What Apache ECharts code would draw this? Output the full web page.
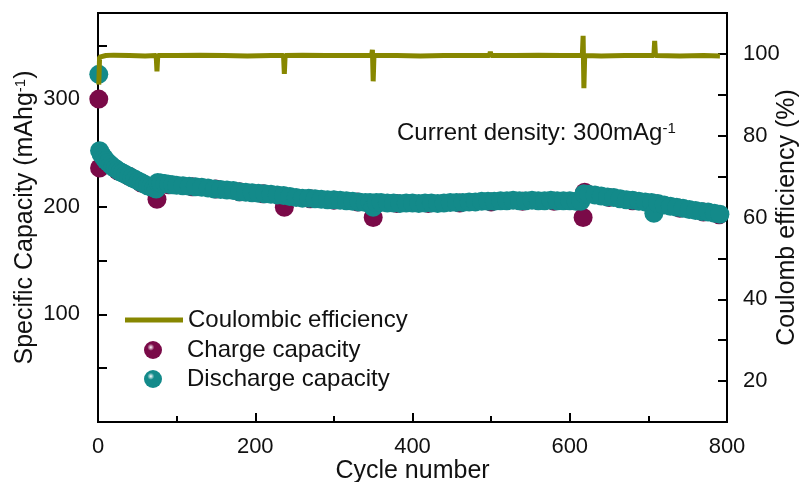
<!DOCTYPE html>
<html>
<head>
<meta charset="utf-8">
<script src="https://cdn.jsdelivr.net/npm/echarts@6/dist/echarts.min.js"></script>
<style>
  html, body, #main { width: 100%; height: 100%; margin: 0; background: #fff; }
</style>
</head>
<body>
<div id="main"></div>
<script>
// [cycle, mAh/g]
var discharge = [
  [1,323],[2,252],[4,249],[6,247],[8,245],[10,243],[13,241],[16,239],[19,237],[22,235.5],
  [25,234],[28,232.5],[31,231.5],[35,230],[39,228.5],[43,227],[47,225.5],[51,224],[55,222.5],
  [59,221],[63,219.5],[67,218.5],[71,217.5],[74,216.5],[76,222.5],[80,222],[85,221.5],[90,221],
  [95,220.5],[100,220],[108,219.5],[116,219],[124,218.5],[132,218],[140,217.5],[148,216.5],
  [156,216],[164,215.5],[172,215],[180,214],[188,213.5],[196,213],[204,212.5],[212,212],
  [220,211.5],[228,211],[236,210.5],[244,209.5],[252,208.5],[260,208],[268,208],[276,207.5],
  [284,207],[292,206.5],[300,206.5],[308,206],[316,205.5],[324,205],[332,204.5],[340,204],
  [346,204],[350,199.5],[354,204],[360,204],[368,203.5],[376,203.5],[384,203],[392,203.5],
  [400,203.5],[408,203],[416,203.5],[424,203.5],[432,203],[440,203.5],[448,204],[456,204],
  [464,204],[472,204.5],[480,204.5],[488,205],[496,205],[504,205],[512,205.5],[520,205.5],
  [528,206],[536,205.5],[544,205.5],[552,206],[560,205.5],[568,205.5],[576,206],[584,205.5],
  [592,205.5],[600,205.5],[608,205],[614,205],[618,212],[624,211.5],[632,211],[640,210],
  [648,209],[656,208.5],[664,207.5],[672,206.5],[680,206],[688,205],[696,204.5],[704,204],
  [707,194],[712,203],[720,201.5],[728,200.5],[736,199.5],[744,198.5],[752,197.5],[760,196.5],
  [768,195.5],[776,195],[784,194],[791,193]
];
var charge = [
  [1,300],[2,236],[10,242],[25,233.5],[40,228],[55,222],[70,217.5],[75,207],[90,220.5],
  [120,218.5],[150,216.5],[180,214],[210,212],[237,199.5],[270,207.5],[300,206],[330,204.5],
  [350,190],[380,203],[420,203],[460,203.5],[500,204.5],[540,205],[580,205],[617,190],
  [619,213.5],[650,208.5],[680,205.5],[710,202.5],[740,198.5],[770,195],[790,192.5]
];
var ceCycles = [1,2,3,10,20,40,60,74,75,76,100,130,160,190,220,236,237,238,260,290,
  320,348,349,350,351,380,410,440,470,498,499,500,530,560,590,616,617,618,619,640,670,
  700,707,708,709,740,770,791];
var ceValues = [92.5,99.2,99.6,99.6,99.7,99.6,99.5,99.6,95.7,99.6,99.6,99.7,99.6,99.5,99.6,99.6,95.1,99.6,99.7,99.6,
  99.6,99.6,101.0,93.3,99.7,99.6,99.5,99.6,99.6,99.6,100.5,99.6,99.6,99.7,99.6,99.6,104.4,91.6,99.6,99.5,99.6,
  99.6,99.6,103.2,99.6,99.5,99.6,99.5];

var xLabels = [0, 200, 400, 600, 800];
var capLabels = [100, 200, 300];
var ceLabels = [20, 40, 60, 80, 100];

var FONT = '"Liberation Sans", Arial, sans-serif';
var OLIVE = '#878700', PURPLE = '#7a0a48', TEAL = '#138a8a';

function ball(c) {
  return {
    type: 'radial', x: 0.38, y: 0.35, r: 0.65,
    colorStops: [{ offset: 0, color: '#ffffff' }, { offset: 0.3, color: c }, { offset: 1, color: c }]
  };
}
function only(list) {
  return function (v) { return list.indexOf(v) >= 0 ? String(v) : ''; };
}

var chart = echarts.init(document.getElementById('main'));
var axisLine = { show: true, lineStyle: { color: '#000', width: 2 } };
var tick = { show: true, inside: true, length: 9, lineStyle: { color: '#000', width: 2 } };
var legendText = { fontSize: 24, color: '#111', fontFamily: FONT };

chart.setOption({
  animation: false,
  textStyle: { fontFamily: FONT },
  grid: {
    left: 98, right: 75, top: 13, bottom: 60, outerBoundsMode: 'none',
    show: true, borderColor: '#000', borderWidth: 2
  },
  xAxis: {
    type: 'value', min: 0, max: 800, interval: 200,
    name: 'Cycle number', nameLocation: 'middle', nameGap: 37, nameMoveOverlap: false,
    nameTextStyle: { fontSize: 25, color: '#111', fontFamily: FONT },
    axisLine: axisLine, axisTick: tick,
    minorTick: { show: true, splitNumber: 2, length: 6, lineStyle: { color: '#000', width: 2 } },
    splitLine: { show: false },
    axisLabel: { fontSize: 22, color: '#111', margin: 14, formatter: only(xLabels) }
  },
  yAxis: [{
    type: 'value', min: 0, max: 380, interval: 50, position: 'left',
    name: '{a|Specific Capacity (mAhg}{s|-1}{a|)}', nameLocation: 'middle', nameGap: 60, nameRotate: 90,
    nameMoveOverlap: false,
    nameTextStyle: { color: '#111', rich: {
      a: { fontSize: 25, fontFamily: FONT, color: '#111' },
      s: { fontSize: 15, fontFamily: FONT, color: '#111', verticalAlign: 'top' } } },
    axisLine: axisLine, axisTick: tick, splitLine: { show: false },
    axisLabel: { fontSize: 22, color: '#111', margin: 18, formatter: only(capLabels) }
  }, {
    type: 'value', min: 10, max: 110, interval: 10, position: 'right',
    name: 'Coulomb efficiency (%)', nameLocation: 'middle', nameGap: 48, nameRotate: 90,
    nameMoveOverlap: false,
    nameTextStyle: { fontSize: 25, color: '#111', fontFamily: FONT },
    axisLine: axisLine, axisTick: tick, splitLine: { show: false },
    axisLabel: { fontSize: 22, color: '#111', margin: 16, formatter: only(ceLabels) }
  }],
  legend: [{
    orient: 'vertical', left: 120, top: 303, itemWidth: 58, itemHeight: 5,
    icon: 'rect', textStyle: legendText,
    data: [{ name: 'Coulombic efficiency', itemStyle: { color: OLIVE } }]
  }, {
    orient: 'vertical', left: 139, top: 333, itemWidth: 58, itemHeight: 18, itemGap: 5,
    textStyle: legendText,
    data: [
      { name: 'Charge capacity', icon: 'circle', itemStyle: { color: ball(PURPLE) } },
      { name: 'Discharge capacity', icon: 'circle', itemStyle: { color: ball(TEAL) } }
    ]
  }],
  graphic: [{
    type: 'text', left: 397, top: 121,
    style: {
      text: '{a|Current density: 300mAg}{s|-1}',
      rich: {
        a: { fontSize: 24, fontFamily: FONT, fill: '#111' },
        s: { fontSize: 15, fontFamily: FONT, fill: '#111', verticalAlign: 'top' }
      }
    }
  }],
  series: [{
    name: 'Charge capacity', type: 'scatter', symbolSize: 19,
    itemStyle: { color: PURPLE, opacity: 1 }, data: charge
  }, {
    name: 'Discharge capacity', type: 'scatter', symbolSize: 19,
    itemStyle: { color: TEAL, opacity: 1 }, data: discharge
  }, {
    name: 'Coulombic efficiency', type: 'line', yAxisIndex: 1, symbol: 'none', z: 3,
    lineStyle: { color: OLIVE, width: 5 }, itemStyle: { color: OLIVE },
    data: ceCycles.map(function (c, i) { return [c, ceValues[i]]; })
  }]
});
</script>
</body>
</html>
